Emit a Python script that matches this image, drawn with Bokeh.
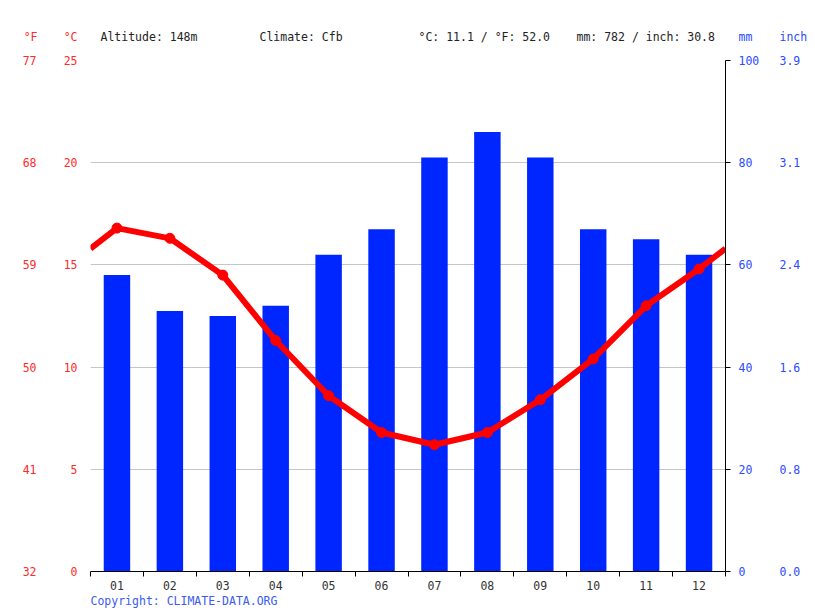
from bokeh.plotting import figure
from bokeh.models import Range1d, LinearAxis, FixedTicker
from bokeh.layouts import column
from bokeh.core.properties import value
from bokeh.embed import file_html
from bokeh.resources import INLINE

# ---- data ----
months = ["01", "02", "03", "04", "05", "06", "07", "08", "09", "10", "11", "12"]
precip_mm = [58, 51, 50, 52, 62, 67, 81, 86, 81, 67, 65, 62]
temp_c = [16.8, 16.3, 14.5, 11.3, 8.6, 6.8, 6.2, 6.8, 8.4, 10.4, 13.0, 14.8]
c_ticks = [0, 5, 10, 15, 20, 25]
mm_ticks = [0, 20, 40, 60, 80, 100]
header_texts = ["Altitude: 148m", "Climate: Cfb", "°C: 11.1 / °F: 52.0", "mm: 782 / inch: 30.8"]
unit_texts = ["°F", "°C", "mm", "inch"]
copyright_text = "Copyright: CLIMATE-DATA.ORG"

# ---- style ----
FONT = "DejaVu Sans Mono"
FS = "11.5px"
RED = "#ff0000"
RED_TXT = "#ff2a2a"
BLUE = "#0026ff"
BLUE_TXT = "#2a4bff"
GRID = "#c6c6c6"
W = 815
HEAD_H, TOP_B, FRAME_H, BOT_B, FOOT_H = 44, 16, 511, 22, 18
LEFT_B, RIGHT_B = 90, 90

n = len(months)
centers = [i + 0.5 for i in range(n)]
bounds = list(range(n + 1))


def strip_fig(h):
    f = figure(width=W, height=h, output_backend="svg", toolbar_location=None,
               x_range=Range1d(0, W), y_range=Range1d(h, 0),
               x_axis_type=None, y_axis_type=None, min_border=0,
               min_border_left=0, min_border_right=0, min_border_top=0, min_border_bottom=0)
    f.frame_align = False
    f.outline_line_color = None
    f.background_fill_color = "white"
    f.border_fill_color = "white"
    return f


# ---- header strip ----
head = strip_fig(HEAD_H)
hy = 36
head.text(x=[37, 77], y=[hy, hy], text=unit_texts[:2], text_color=RED_TXT,
          text_font=value(FONT), text_font_size=FS, text_align="right", text_baseline="middle")
head.text(x=[738, 779], y=[hy, hy], text=unit_texts[2:], text_color=BLUE_TXT,
          text_font=value(FONT), text_font_size=FS, text_align="left", text_baseline="middle")
head.text(x=[100, 259, 418, 576], y=[hy] * 4, text=header_texts, text_color="#222222",
          text_font=value(FONT), text_font_size=FS, text_align="left", text_baseline="middle")

# ---- main chart ----
p = figure(width=W, height=TOP_B + FRAME_H + BOT_B, output_backend="svg", toolbar_location=None,
           x_range=Range1d(0, n), y_range=Range1d(0, 25),
           min_border_left=LEFT_B, min_border_right=RIGHT_B,
           min_border_top=TOP_B, min_border_bottom=BOT_B)
p.frame_align = False
p.extra_y_ranges = {"mm": Range1d(0, 100)}
p.outline_line_color = None
p.background_fill_color = "white"
p.border_fill_color = "white"

p.xgrid.visible = False
p.ygrid.ticker = FixedTicker(ticks=c_ticks)
p.ygrid.grid_line_color = GRID
p.ygrid.grid_line_width = 1

p.vbar(x=centers, top=precip_mm, width=0.5, bottom=0, y_range_name="mm",
       fill_color=BLUE, line_color=None)

edge = (temp_c[-1] + temp_c[0]) / 2
p.line([0] + centers + [n], [edge] + temp_c + [edge], line_width=6, line_color=RED,
       line_join="round")
p.scatter(centers, temp_c, size=10, fill_color=RED, line_color=RED)

xa = p.xaxis[0]
xa.ticker = FixedTicker(ticks=centers, minor_ticks=bounds)
xa.major_label_overrides = {c: m for c, m in zip(centers, months)}
xa.major_tick_out = 0
xa.major_tick_in = 0
xa.minor_tick_out = 5
xa.minor_tick_in = 0
xa.minor_tick_line_color = "black"
xa.axis_line_color = "black"
xa.major_label_standoff = 4
xa.major_label_text_font = FONT
xa.major_label_text_font_size = FS
xa.major_label_text_color = "#333333"

ya = p.yaxis[0]
ya.ticker = FixedTicker(ticks=c_ticks)
ya.axis_line_color = None
ya.major_tick_line_color = None
ya.minor_tick_line_color = None
ya.major_tick_out = 0
ya.major_label_standoff = 13
ya.major_label_text_font = FONT
ya.major_label_text_font_size = FS
ya.major_label_text_color = RED_TXT

fa = LinearAxis(ticker=FixedTicker(ticks=c_ticks),
                major_label_overrides={c: f"{c * 1.8 + 32:.0f}" for c in c_ticks})
fa.axis_line_color = None
fa.major_tick_line_color = None
fa.minor_tick_line_color = None
fa.major_tick_out = 0
fa.major_label_standoff = 24
fa.major_label_text_font = FONT
fa.major_label_text_font_size = FS
fa.major_label_text_color = RED_TXT
p.add_layout(fa, "left")

ma = LinearAxis(y_range_name="mm", ticker=FixedTicker(ticks=mm_ticks))
ma.axis_line_color = "black"
ma.major_tick_line_color = "black"
ma.major_tick_out = 5
ma.major_tick_in = 0
ma.minor_tick_line_color = None
ma.major_label_standoff = 8
ma.major_label_text_font = FONT
ma.major_label_text_font_size = FS
ma.major_label_text_color = BLUE_TXT
p.add_layout(ma, "right")

ia = LinearAxis(y_range_name="mm", ticker=FixedTicker(ticks=mm_ticks),
                major_label_overrides={m: f"{m / 25.4:.1f}" for m in mm_ticks})
ia.axis_line_color = None
ia.major_tick_line_color = None
ia.minor_tick_line_color = None
ia.major_tick_out = 0
ia.major_label_standoff = 17
ia.major_label_text_font = FONT
ia.major_label_text_font_size = FS
ia.major_label_text_color = BLUE_TXT
p.add_layout(ia, "right")

# ---- footer strip ----
foot = strip_fig(FOOT_H)
foot.text(x=[90], y=[7], text=[copyright_text], text_color="#3a5cf0",
          text_font=value(FONT), text_font_size=FS, text_align="left", text_baseline="middle")

layout = column(head, p, foot, spacing=0)
open("out.html", "w").write(file_html(layout, INLINE))
